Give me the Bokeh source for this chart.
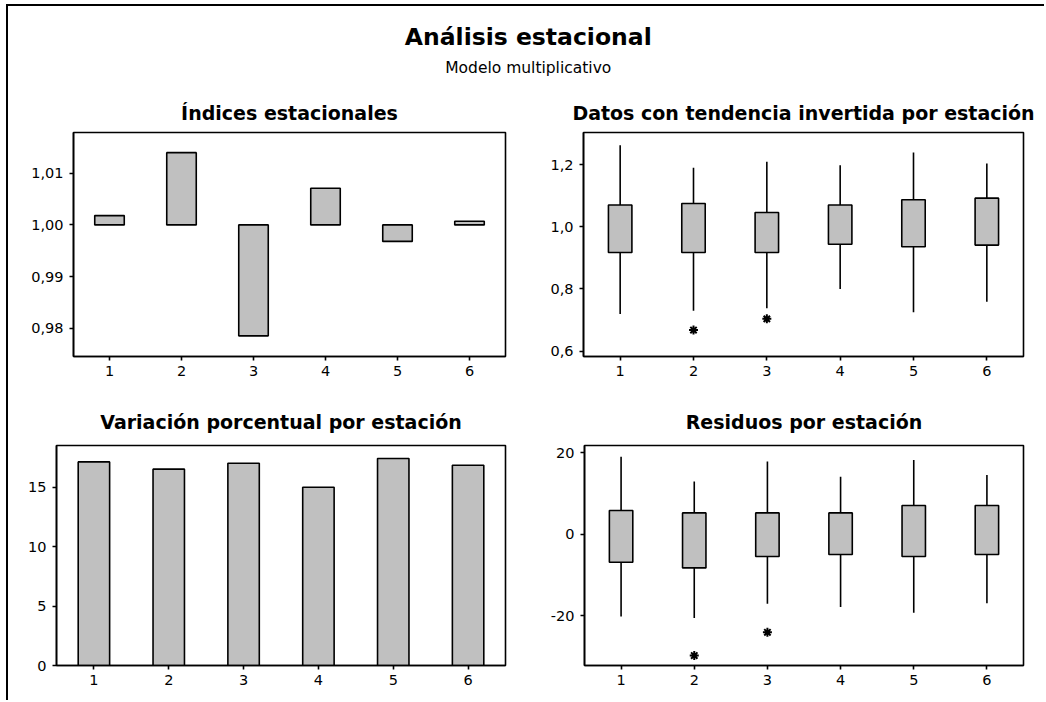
from bokeh.plotting import figure
from bokeh.layouts import column, row
from bokeh.models import Range1d, FixedTicker, CustomJSTickFormatter, Label
from bokeh.embed import file_html
from bokeh.resources import INLINE

# ---------------- data ----------------
seasons = [1, 2, 3, 4, 5, 6]

seasonal_index = [1.0018, 1.0140, 0.9785, 1.0071, 0.9968, 1.0007]

pct_variation = [17.14, 16.53, 17.03, 15.00, 17.42, 16.86]

detr_low = [0.720, 0.730, 0.738, 0.800, 0.725, 0.759]
detr_q1 = [0.9175, 0.9175, 0.9175, 0.944, 0.936, 0.941]
detr_med = [0.995, 1.005, 0.982, 1.005, 0.982, 1.005]
detr_q3 = [1.070, 1.075, 1.046, 1.070, 1.087, 1.092]
detr_high = [1.262, 1.190, 1.209, 1.198, 1.239, 1.203]
detr_out_season = [2, 3]
detr_out_value = [0.668, 0.704]

resid_low = [-20.1, -20.5, -17.0, -17.8, -19.2, -16.9]
resid_q1 = [-6.8, -8.2, -5.4, -4.9, -5.4, -4.9]
resid_med = [-0.4, -0.4, 0.0, 0.0, -0.9, 0.4]
resid_q3 = [5.9, 5.3, 5.3, 5.3, 7.1, 7.1]
resid_high = [19.1, 13.0, 17.9, 14.2, 18.3, 14.6]
resid_out_season = [2, 3]
resid_out_value = [-29.7, -24.0]

main_title = "Análisis estacional"
sub_title = "Modelo multiplicativo"
titles = ["Índices estacionales",
          "Datos con tendencia invertida por estación",
          "Variación porcentual por estación",
          "Residuos por estación"]

# ---------------- style ----------------
FONT = "DejaVu Sans"
GRAY = "#c0c0c0"
TICK_FS = "14.5px"
TITLE_FS = "19px"


def fmt(decimals):
    return CustomJSTickFormatter(
        code="return tick.toFixed(%d).replace('.', ',');" % decimals)


def panel(width, height, left, right, top, bottom, yr, yticks, decimals, title, standoff):
    p = figure(width=width, height=height, x_range=Range1d(0.5, 6.5),
               y_range=Range1d(*yr), output_backend="svg",
               toolbar_location=None, tools="",
               min_border_left=left, min_border_right=right,
               min_border_top=top, min_border_bottom=bottom)
    p.title.text = title
    p.title.align = "center"
    p.title.text_font = FONT
    p.title.text_font_size = TITLE_FS
    p.title.text_font_style = "bold"
    p.title.text_color = "black"
    p.title.standoff = standoff
    p.grid.visible = False
    p.outline_line_color = "black"
    p.outline_line_width = 1.6
    p.outline_line_alpha = 1
    p.background_fill_color = "white"
    p.border_fill_color = "white"
    for ax in (p.xaxis[0], p.yaxis[0]):
        ax.axis_line_color = "black"
        ax.axis_line_width = 1.6
        ax.major_tick_line_color = "black"
        ax.major_tick_line_width = 1.6
        ax.major_tick_out = 4
        ax.major_tick_in = 0
        ax.minor_tick_line_color = None
        ax.major_label_text_font = FONT
        ax.major_label_text_font_size = TICK_FS
        ax.major_label_text_color = "black"
    p.xaxis.major_label_standoff = 5
    p.yaxis.major_label_standoff = 6
    p.xaxis.ticker = FixedTicker(ticks=seasons)
    p.xaxis.formatter = fmt(0)
    p.yaxis.ticker = FixedTicker(ticks=yticks)
    p.yaxis.formatter = fmt(decimals)
    return p


def boxplot(p, low, q1, med, q3, high, out_s, out_v, w=0.32):
    p.segment(x0=seasons, y0=q3, x1=seasons, y1=high, line_color="black", line_width=1.6)
    p.segment(x0=seasons, y0=q1, x1=seasons, y1=low, line_color="black", line_width=1.6)
    p.vbar(x=seasons, bottom=q1, top=q3, width=w, fill_color=GRAY,
           line_color="black", line_width=1.6)
    p.rect(x=seasons, y=med, width=w, height=0, fill_alpha=0,
           line_color="black", line_width=1.6)
    p.scatter(x=out_s, y=out_v, marker="asterisk", size=9,
              line_color="black", line_width=2)


# ---------------- header ----------------
header = figure(width=1036, height=84, x_range=Range1d(0, 1), y_range=Range1d(0, 1),
                output_backend="svg", toolbar_location=None, tools="",
                min_border=0)
header.axis.visible = False
header.grid.visible = False
header.outline_line_color = None
header.add_layout(Label(x=0.5017, y=0.631, text=main_title, text_align="center",
                        text_baseline="middle", text_font=FONT,
                        text_font_size="23.5px", text_font_style="bold",
                        text_color="black"))
header.add_layout(Label(x=0.5017, y=0.262, text=sub_title, text_align="center",
                        text_baseline="middle", text_font=FONT,
                        text_font_size="15.5px", text_color="black"))

# ---------------- panels ----------------
p1 = panel(532, 295, 65, 35, 42, 29, (0.9745, 1.0179), [0.98, 0.99, 1.00, 1.01], 2,
           titles[0], 18)
p1.vbar(x=seasons, bottom=1.0, top=seasonal_index, width=0.41,
        fill_color=GRAY, line_color="black", line_width=1.6)

p2 = panel(504, 295, 43, 21, 42, 29, (0.583, 1.303), [0.6, 0.8, 1.0, 1.2], 1,
           titles[1], 18)
boxplot(p2, detr_low, detr_q1, detr_med, detr_q3, detr_high,
        detr_out_season, detr_out_value)

p3 = panel(532, 315, 48, 35, 58, 35, (0, 18.52), [0, 5, 10, 15], 0, titles[2], 25)
p3.vbar(x=seasons, bottom=0, top=pct_variation, width=0.42,
        fill_color=GRAY, line_color="black", line_width=1.6)

p4 = panel(504, 315, 44, 21, 60, 35, (-32.15, 21.84), [-20, 0, 20], 0, titles[3], 26)
boxplot(p4, resid_low, resid_q1, resid_med, resid_q3, resid_high,
        resid_out_season, resid_out_value)

layout = column(header, row(p1, p2), row(p3, p4),
                styles={"border-top": "2px solid black",
                        "border-left": "2px solid black",
                        "margin-left": "6px",
                        "margin-top": "4px"})

open("out.html", "w").write(file_html(layout, INLINE))
